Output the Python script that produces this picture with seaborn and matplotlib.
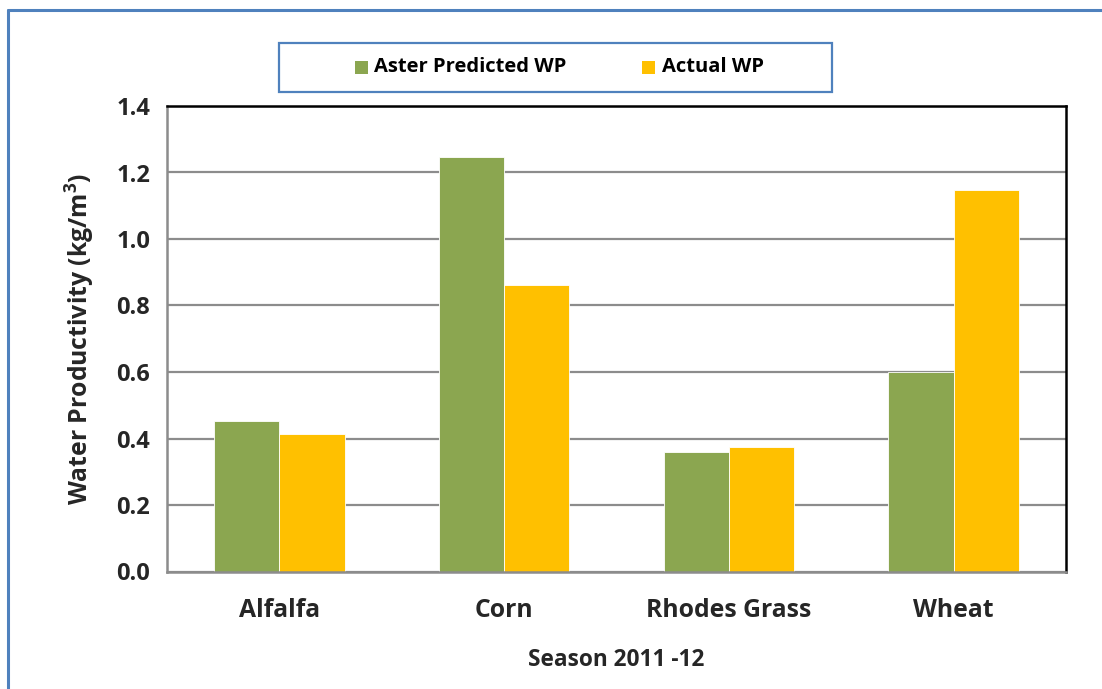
import matplotlib
matplotlib.use("Agg")
import matplotlib.pyplot as plt
from matplotlib.lines import Line2D
from matplotlib.patches import Rectangle
import seaborn as sns
import pandas as pd

# Water productivity per crop, season 2011-12
crops = ["Alfalfa", "Corn", "Rhodes Grass", "Wheat"]
aster_predicted = [0.454, 1.247, 0.358, 0.601]
actual = [0.415, 0.861, 0.374, 1.147]
series_names = ["Aster Predicted WP", "Actual WP"]
y_ticks = [0.0, 0.2, 0.4, 0.6, 0.8, 1.0, 1.2, 1.4]

df = pd.DataFrame({
    "crop": crops * 2,
    "series": [series_names[0]] * len(crops) + [series_names[1]] * len(crops),
    "wp": aster_predicted + actual,
})

sns.set_theme(style="white")
plt.rcParams["font.family"] = ["Open Sans", "DejaVu Sans"]
plt.rcParams["font.weight"] = "bold"
plt.rcParams["mathtext.fontset"] = "custom"
plt.rcParams["mathtext.bf"] = "Open Sans:bold"
plt.rcParams["mathtext.rm"] = "Open Sans:bold"

W, H = 1102, 689
fig = plt.figure(figsize=(W / 100, H / 100), dpi=100)
fig.patch.set_facecolor("white")
ax = fig.add_axes([167 / W, 1 - 571.5 / H, 899 / W, 465.5 / H])

green = "#8BA650"
yellow = "#FFC000"
grid_c = "#8C8C8C"

sns.barplot(data=df, x="crop", y="wp", hue="series", order=crops,
            hue_order=series_names, palette=[green, yellow],
            width=0.58, saturation=1, ax=ax, legend=False,
            edgecolor="white", linewidth=0.6)

ax.set_ylim(0, 1.4)
ax.set_xlim(-0.5, len(crops) - 0.5)
ax.set_yticks(y_ticks)
ax.set_yticklabels([f"{v:.1f}" for v in y_ticks], fontsize=17, fontweight="bold")
ax.yaxis.grid(True, color=grid_c, linewidth=1.6)
ax.set_axisbelow(True)

# Category labels centered, ticks at category boundaries
ax.set_xticks(range(len(crops)))
ax.set_xticklabels(crops, fontsize=17.8, fontweight="bold")
ax.tick_params(axis="x", length=0, pad=19)
ax.set_xticks([i - 0.5 for i in range(len(crops) + 1)], minor=True)
ax.tick_params(axis="x", which="minor", length=8, width=1.6, color=grid_c,
               direction="out")
ax.tick_params(axis="y", length=8, width=1.6, color=grid_c, direction="out",
               pad=4)

for side in ("left", "bottom"):
    ax.spines[side].set_color(grid_c)
    ax.spines[side].set_linewidth(1.8)
for side in ("top", "right"):
    ax.spines[side].set_color("black")
    ax.spines[side].set_linewidth(1.8)

ax.set_xlabel("Season 2011 -12", fontsize=16.3, fontweight="bold", labelpad=18)
ax.set_ylabel("Water Productivity (kg/m$^\\mathbf{3}$)", fontsize=17.8,
              fontweight="bold", labelpad=14)

# Legend box
lx0, lx1, ly0, ly1 = 279, 832, 43, 92
fig.add_artist(Rectangle((lx0 / W, 1 - ly1 / H), (lx1 - lx0) / W,
                         (ly1 - ly0) / H, transform=fig.transFigure,
                         facecolor="white", edgecolor="#4F81BD", linewidth=1.6))
ly_mid = 1 - 67.5 / H
for name, color, mx, tx in [(series_names[0], green, 355, 374),
                            (series_names[1], yellow, 642, 662)]:
    fig.add_artist(Rectangle((mx / W, ly_mid - 6.5 / H), 13 / W, 13 / H,
                             transform=fig.transFigure, facecolor=color,
                             edgecolor="none"))
    fig.text(tx / W, ly_mid, name, fontsize=14.5, fontweight="bold",
             va="center", ha="left", color="black")

# Outer frame of the chart area
frame_c = "#4F81BD"
fig.add_artist(Line2D([8 / W, 1.0], [1 - 10 / H, 1 - 10 / H],
                      transform=fig.transFigure, color=frame_c, linewidth=2.2))
fig.add_artist(Line2D([8 / W, 8 / W], [1 - 10 / H, 0.0],
                      transform=fig.transFigure, color=frame_c, linewidth=2.2))

fig.savefig("out.png", dpi=100, facecolor="white")
